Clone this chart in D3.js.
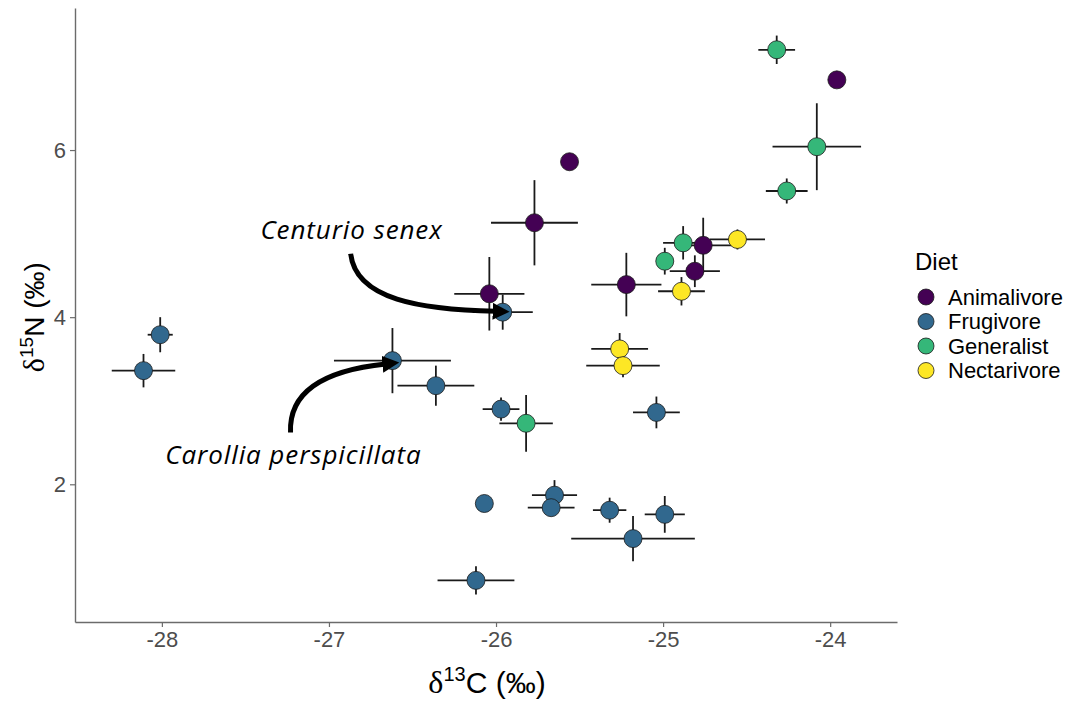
<!DOCTYPE html>
<html>
<head>
<meta charset="utf-8">
<script src="https://cdn.jsdelivr.net/npm/d3@7/dist/d3.min.js"></script>
<style>
  body { margin: 0; background: #fff; }
  svg { display: block; }
</style>
</head>
<body>
<div id="chart"></div>
<script>
// diet groups and fill colours (viridis, 4 classes)
var dietNames = ["Animalivore", "Frugivore", "Generalist", "Nectarivore"];
var dietColors = ["#440154", "#31688E", "#35B779", "#FDE725"];

// mean d13C / d15N per species and their error half-widths
var animalivoreC = [-23.96, -25.56, -25.77, -26.04, -25.22, -24.76, -24.81];
var animalivoreN = [6.84, 5.86, 5.13, 4.28, 4.39, 4.86, 4.55];
var animalivoreCerr = [0, 0, 0.26, 0.21, 0.21, 0.17, 0.15];
var animalivoreNerr = [0, 0, 0.51, 0.44, 0.38, 0.33, 0.19];

var frugivoreC = [-28.01, -28.11, -26.62, -26.36, -25.97, -25.96, -25.04, -26.07, -25.65, -25.67, -25.32, -24.99, -25.18, -26.12];
var frugivoreN = [3.79, 3.36, 3.48, 3.18, 2.90, 4.06, 2.86, 1.77, 1.87, 1.72, 1.69, 1.64, 1.35, 0.85];
var frugivoreCerr = [0.075, 0.19, 0.35, 0.23, 0.11, 0.18, 0.14, 0, 0.135, 0.14, 0.10, 0.12, 0.37, 0.23];
var frugivoreNerr = [0.21, 0.20, 0.39, 0.24, 0.14, 0.21, 0.19, 0, 0.18, 0, 0.15, 0.22, 0.27, 0.17];

var generalistC = [-24.32, -24.08, -24.26, -24.88, -24.99, -25.82];
var generalistN = [7.20, 6.04, 5.51, 4.89, 4.67, 2.73];
var generalistCerr = [0.11, 0.265, 0.125, 0.12, 0.05, 0.16];
var generalistNerr = [0.17, 0.52, 0.15, 0.20, 0.16, 0.34];

var nectarivoreC = [-24.555, -24.89, -25.26, -25.24];
var nectarivoreN = [4.93, 4.31, 3.62, 3.42];
var nectarivoreCerr = [0.165, 0.14, 0.17, 0.22];
var nectarivoreNerr = [0.12, 0.17, 0.19, 0.14];

var xTicks = [-28, -27, -26, -25, -24];
var yTicks = [2, 4, 6];

// labelled species: text anchor and arrow path (data units)
var noteLabels = ["Centurio senex", "Carollia perspicillata"];
var noteTextAt = [[-27.41, 4.93], [-27.98, 2.24]];
var noteArrows = [
  [[-26.87, 4.76], [-26.84, 4.21], [-26.45, 4.09], [-26.0, 4.07]],
  [[-27.23, 2.62], [-27.24, 3.09], [-27.05, 3.36], [-26.66, 3.44]]
];

var width = 1084, height = 701;
var panel = { left: 75, right: 897, top: 8, bottom: 622 };

var svg = d3.select("#chart").append("svg")
  .attr("width", width)
  .attr("height", height);

var x = d3.scaleLinear().domain([-28.52, -23.60]).range([panel.left, panel.right]);
var y = d3.scaleLinear().domain([0.352, 7.70]).range([panel.bottom, panel.top]);
var color = d3.scaleOrdinal().domain(dietNames).range(dietColors);

var groups = [
  [animalivoreC, animalivoreN, animalivoreCerr, animalivoreNerr],
  [frugivoreC, frugivoreN, frugivoreCerr, frugivoreNerr],
  [generalistC, generalistN, generalistCerr, generalistNerr],
  [nectarivoreC, nectarivoreN, nectarivoreCerr, nectarivoreNerr]
];

var points = [];
groups.forEach(function(g, gi) {
  g[0].forEach(function(c, i) {
    points.push({ diet: dietNames[gi], c: c, n: g[1][i], ce: g[2][i], ne: g[3][i] });
  });
});

// axes
var xAxis = svg.append("g")
  .attr("transform", "translate(0," + panel.bottom + ")")
  .call(d3.axisBottom(x).tickValues(xTicks).tickSize(5).tickSizeOuter(0).tickPadding(4)
    .tickFormat(function(d) { return d3.format("d")(d).replace("−", "-"); }));
var yAxis = svg.append("g")
  .attr("transform", "translate(" + panel.left + ",0)")
  .call(d3.axisLeft(y).tickValues(yTicks).tickSize(5).tickSizeOuter(0).tickPadding(4));

[xAxis, yAxis].forEach(function(a) {
  a.select(".domain").attr("stroke", "#6b6b6b").attr("stroke-width", 1.4);
  a.selectAll(".tick line").attr("stroke", "#6b6b6b").attr("stroke-width", 1.2);
  a.selectAll(".tick text")
    .attr("fill", "#4D4D4D")
    .attr("font-family", "'Liberation Sans', Arial, sans-serif")
    .attr("font-size", "22px");
});

// error bars
var bars = svg.append("g").attr("stroke", "#1a1a1a").attr("stroke-width", 1.8);
bars.selectAll("line.h")
  .data(points.filter(function(d) { return d.ce > 0; }))
  .enter().append("line").attr("class", "h")
  .attr("x1", function(d) { return x(d.c - d.ce); })
  .attr("x2", function(d) { return x(d.c + d.ce); })
  .attr("y1", function(d) { return y(d.n); })
  .attr("y2", function(d) { return y(d.n); });
bars.selectAll("line.v")
  .data(points.filter(function(d) { return d.ne > 0; }))
  .enter().append("line").attr("class", "v")
  .attr("x1", function(d) { return x(d.c); })
  .attr("x2", function(d) { return x(d.c); })
  .attr("y1", function(d) { return y(d.n - d.ne); })
  .attr("y2", function(d) { return y(d.n + d.ne); });

// points
svg.append("g").selectAll("circle")
  .data(points)
  .enter().append("circle")
  .attr("cx", function(d) { return x(d.c); })
  .attr("cy", function(d) { return y(d.n); })
  .attr("r", 9)
  .attr("fill", function(d) { return color(d.diet); })
  .attr("stroke", "#1a1a1a")
  .attr("stroke-width", 0.8);

// annotations
svg.append("defs").append("marker")
  .attr("id", "head")
  .attr("viewBox", "0 0 10 10")
  .attr("refX", 2).attr("refY", 5)
  .attr("markerWidth", 3.4).attr("markerHeight", 3.4)
  .attr("orient", "auto")
  .append("path").attr("d", "M0,0 L10,5 L0,10 Z").attr("fill", "#000");

noteArrows.forEach(function(p) {
  var q = p.map(function(v) { return [x(v[0]), y(v[1])]; });
  svg.append("path")
    .attr("d", "M" + q[0] + " C" + q[1] + " " + q[2] + " " + q[3])
    .attr("fill", "none")
    .attr("stroke", "#000")
    .attr("stroke-width", 5)
    .attr("marker-end", "url(#head)");
});

svg.append("g").selectAll("text")
  .data(noteLabels)
  .enter().append("text")
  .attr("x", function(d, i) { return x(noteTextAt[i][0]); })
  .attr("y", function(d, i) { return y(noteTextAt[i][1]); })
  .attr("font-family", "'Open Sans', sans-serif")
  .attr("font-style", "italic")
  .attr("font-size", "26px")
  .attr("letter-spacing", "0.9px")
  .attr("fill", "#000")
  .text(function(d) { return d; });

// axis titles
var xt = svg.append("text")
  .attr("x", 487)
  .attr("y", 693)
  .attr("text-anchor", "middle")
  .attr("font-family", "'Liberation Sans', Arial, sans-serif")
  .attr("font-size", "30px")
  .attr("fill", "#000");
xt.append("tspan").attr("font-family", "'Liberation Serif', serif").attr("font-size", "32px").text("δ");
xt.append("tspan").attr("font-size", "20px").attr("dy", -12).text("13");
xt.append("tspan").attr("dy", 12).text("C (‰)");

var yt = svg.append("text")
  .attr("transform", "translate(44," + y(4) + ") rotate(-90)")
  .attr("text-anchor", "middle")
  .attr("font-family", "'Liberation Sans', Arial, sans-serif")
  .attr("font-size", "28px")
  .attr("fill", "#000");
yt.append("tspan").attr("font-family", "'Liberation Serif', serif").attr("font-size", "30px").text("δ");
yt.append("tspan").attr("font-size", "19px").attr("dy", -11).text("15");
yt.append("tspan").attr("dy", 11).text("N (‰)");

// legend
var legend = svg.append("g").attr("transform", "translate(915,0)");
legend.append("text")
  .attr("x", 0).attr("y", 270)
  .attr("font-family", "'Liberation Sans', Arial, sans-serif")
  .attr("font-size", "24px")
  .text("Diet");
var keys = legend.selectAll("g.key")
  .data(dietNames)
  .enter().append("g").attr("class", "key")
  .attr("transform", function(d, i) { return "translate(0," + (297 + i * 24.5) + ")"; });
keys.append("circle")
  .attr("cx", 11).attr("cy", 0).attr("r", 8)
  .attr("fill", function(d) { return color(d); })
  .attr("stroke", "#1a1a1a").attr("stroke-width", 0.8);
keys.append("text")
  .attr("x", 33).attr("y", 0)
  .attr("dy", "0.35em")
  .attr("font-family", "'Liberation Sans', Arial, sans-serif")
  .attr("font-size", "22px")
  .text(function(d) { return d; });
</script>
</body>
</html>
